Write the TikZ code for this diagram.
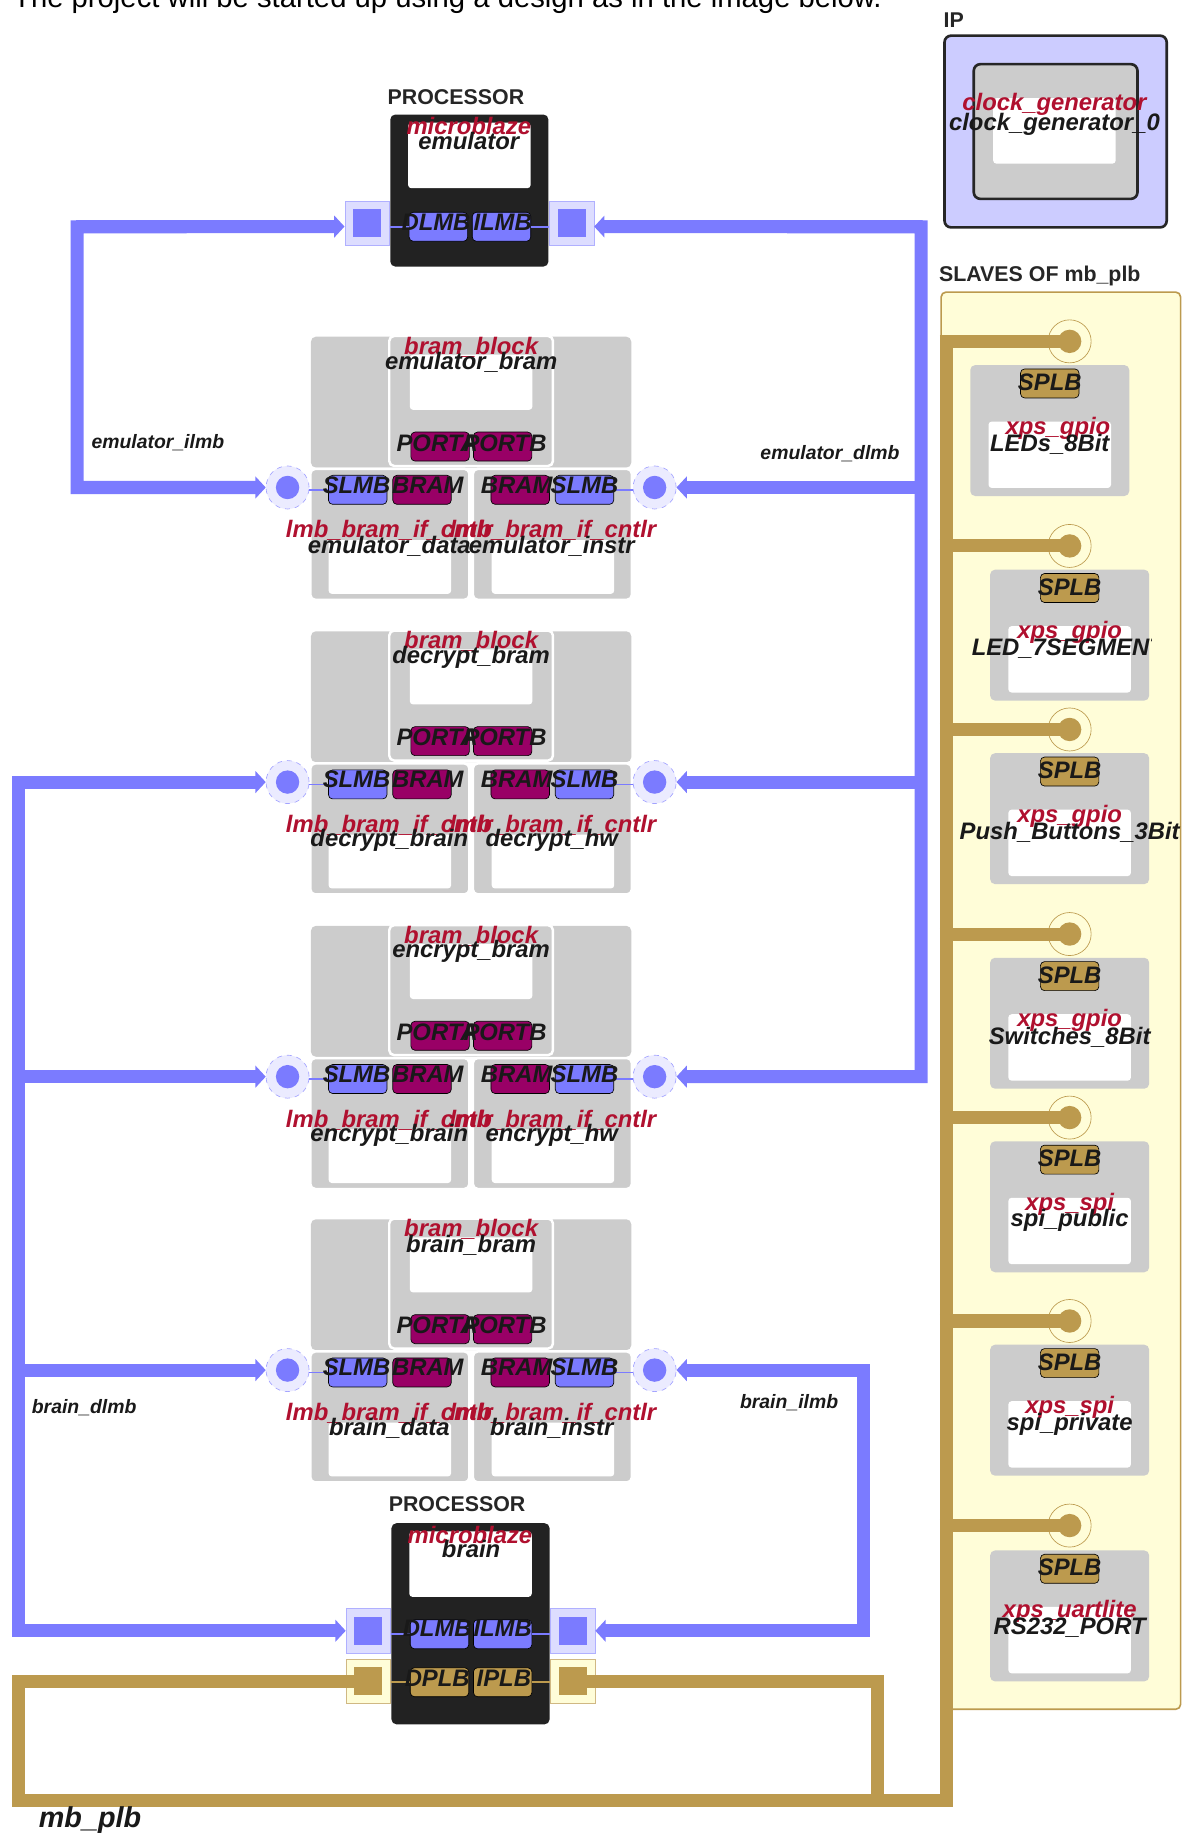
\documentclass[tikz,border=0pt]{standalone}
\usepackage{fontspec}
\setmainfont{Liberation Sans}
\usetikzlibrary{arrows.meta,positioning,calc}
\definecolor{lmbblue}{HTML}{7B7BFF}
\definecolor{lmbpale}{HTML}{DDDDFF}
\definecolor{plbtan}{HTML}{BC9A4E}
\definecolor{plbpale}{HTML}{FFFDD8}
\definecolor{ipblue}{HTML}{CCCCFF}
\definecolor{blockgray}{HTML}{CCCCCC}
\definecolor{procblack}{HTML}{222222}
\definecolor{bramred}{HTML}{B0102F}
\definecolor{bramport}{HTML}{990066}
\tikzset{
  block/.style    = {fill=blockgray, rounded corners=3pt, inner sep=0pt, minimum width=3.4cm, minimum height=2.8cm},
  whitebox/.style = {fill=white, rounded corners=2pt, inner sep=0pt, minimum width=2.62cm},
  port/.style     = {draw=black, rounded corners=2.5pt, inner sep=0pt, minimum width=1.25cm, minimum height=0.62cm},
  lmbport/.style  = {port, fill=lmbblue},
  bramp/.style    = {port, fill=bramport},
  plbport/.style  = {port, fill=plbtan},
  typetxt/.style  = {text=bramred, font=\fontsize{14.5}{14.5}\selectfont\bfseries\itshape, inner sep=0pt},
  nametxt/.style  = {text=black!90, font=\fontsize{14.5}{14.5}\selectfont\bfseries\itshape, inner sep=0pt},
  porttxt/.style  = {text=black!90, font=\fontsize{14.5}{14.5}\selectfont\bfseries\itshape, inner sep=0pt},
  bustxt/.style   = {text=black!90, font=\fontsize{11.8}{11.8}\selectfont\bfseries\itshape, inner sep=0pt},
  headtxt/.style  = {text=black!85, font=\fontsize{13}{13}\selectfont\bfseries, inner sep=0pt},
  lmbterm/.style  = {circle, draw=lmbblue!70, dashed, fill=lmbpale!60, inner sep=0pt, minimum size=0.92cm},
  plbterm/.style  = {circle, draw=plbtan, fill=plbpale, inner sep=0pt, minimum size=0.92cm},
  lmbsq/.style    = {draw=lmbblue!60, fill=lmbpale, inner sep=0pt, minimum size=0.95cm},
  plbsq/.style    = {draw=plbtan!70, fill=plbpale, inner sep=0pt, minimum size=0.95cm},
  lmbbus/.style   = {draw=lmbblue, line width=0.28cm, {Triangle[length=0.22cm,width=0.46cm]}-{Triangle[length=0.22cm,width=0.46cm]}},
  lmbstub/.style  = {draw=lmbblue, line width=0.28cm, -{Triangle[length=0.22cm,width=0.46cm]}},
  plbbus/.style   = {draw=plbtan, line width=0.28cm},
  wire/.style     = {line width=1pt},
}
\begin{document}
\begin{tikzpicture}[x=0.025cm,y=-0.025cm]
\useasboundingbox (0,0) rectangle (1015,1568);
\node[anchor=base west, inner sep=0pt, font=\fontsize{17.8}{18}\selectfont] (intro) at (11,6) {The project will be started up using a design as in the image below.};
% ip core
\node[headtxt, anchor=west] (iphead) at (807,17) {IP};
\node[draw=black!85, line width=1.6pt, fill=ipblue, rounded corners=4pt, inner sep=0pt, minimum width=4.75cm, minimum height=4.1cm] (ipbox) at (903,112.5) {};
\node[draw=black!85, line width=1.6pt, fill=blockgray, rounded corners=4pt, inner sep=0pt, minimum width=3.5cm, minimum height=2.88cm] (clkbox) at (903,112.5) {};
\node[whitebox, minimum height=1.4cm] (clkwhite) at (902,112) {};
\node[typetxt] (clktype) at (902,89) {clock\_generator};
\node[nametxt] (clkname) at (902,106) {clock\_generator\_0};
% slaves panel
\node[headtxt, anchor=west] (slhead) at (803,236) {SLAVES OF mb\_plb};
\node[draw=plbtan, line width=1pt, fill=plbpale, rounded corners=3pt, inner sep=0pt, minimum width=5.12cm, minimum height=30.3cm] (slpanel) at (907.5,856) {};
% processors
\node[headtxt] (emuhead) at (390,83) {PROCESSOR};
\node[headtxt] (brnhead) at (391,1287) {PROCESSOR};
\node[lmbsq] (emuSqL) at (314,191) {};
\node[lmbsq] (emuSqR) at (489,191) {};
\node[lmbsq] (brnSqL) at (315,1395) {};
\node[lmbsq] (brnSqR) at (490,1395) {};
\node[plbsq] (plbSqL) at (315,1438) {};
\node[plbsq] (plbSqR) at (490,1438) {};
\node[fill=procblack, rounded corners=3pt, inner sep=0pt, minimum width=3.38cm, minimum height=3.25cm] (emuproc) at (401.5,163) {};
\node[fill=procblack, rounded corners=3pt, inner sep=0pt, minimum width=3.38cm, minimum height=4.3cm] (brnproc) at (402.5,1389) {};
\node[whitebox, minimum height=1.4cm] (emuwhite) at (401.5,133) {};
\node[whitebox, minimum height=1.4cm] (brnwhite) at (402.5,1338) {};
\node[typetxt] (emutype) at (401,108) {microblaze};
\node[nametxt] (emuname) at (401,121) {emulator};
\node[typetxt] (brntype) at (402,1313) {microblaze};
\node[nametxt] (brnname) at (403,1325) {brain};
\node[lmbport] (emuDlmb) at (375,194) {};
\node[lmbport] (emuIlmb) at (429,194) {};
\node[lmbport] (brnDlmb) at (376,1398) {};
\node[lmbport] (brnIlmb) at (430,1398) {};
\node[plbport] (brnDplb) at (376,1439) {};
\node[plbport] (brnIplb) at (430,1439) {};
\draw[lmbblue, wire] (emuSqL.east |- emuDlmb) -- (emuDlmb.west) (emuIlmb.east) -- (emuSqR.west |- emuIlmb);
\draw[lmbblue, wire] (brnSqL.east |- brnDlmb) -- (brnDlmb.west) (brnIlmb.east) -- (brnSqR.west |- brnIlmb);
\draw[plbtan, wire] (plbSqL.east |- brnDplb) -- (brnDplb.west) (brnIplb.east) -- (plbSqR.west |- brnIplb);
\node[porttxt] (emuDlmbT) at (373,190) {DLMB};
\node[porttxt] (emuIlmbT) at (430,190) {ILMB};
\node[porttxt] (brnDlmbT) at (374,1393) {DLMB};
\node[porttxt] (brnIlmbT) at (430,1393) {ILMB};
\node[porttxt] (brnDplbT) at (374,1436) {DPLB};
\node[porttxt] (brnIplbT) at (431,1436) {IPLB};
% bram groups
\foreach \y/\pre/\bram in {0/emu/emulator,252/dec/decrypt,504/enc/encrypt,755/brn/brain} {
  \fill[blockgray, rounded corners=3pt] (266,{\y+288}) rectangle (540,{\y+400});
  \node[block, minimum width=3.5cm, minimum height=2.78cm, draw=white, line width=1.5pt] (\pre bram) at (403,{\y+343}) {};
  \node[whitebox, minimum height=1.18cm] (\pre white) at (403,{\y+327}) {};
  \node[block, draw=white, line width=1.5pt, anchor=north] (\pre lmbL) at (333.5,{\y+400}) {};
  \node[block, draw=white, line width=1.5pt, anchor=north] (\pre lmbR) at (472.5,{\y+400}) {};
  \node[whitebox, minimum height=1.15cm] (\pre whiteL) at (333.5,{\y+485}) {};
  \node[whitebox, minimum height=1.15cm] (\pre whiteR) at (473,{\y+485}) {};
  \node[bramp] (\pre porta) at (376.5,{\y+382}) {};
  \node[bramp] (\pre portb) at (430,{\y+382}) {};
  \node[lmbport] (\pre slmbL) at (306,{\y+419}) {};
  \node[bramp] (\pre bramL) at (361,{\y+419}) {};
  \node[bramp] (\pre bramR) at (445,{\y+419}) {};
  \node[lmbport] (\pre slmbR) at (500,{\y+419}) {};
  \node[lmbterm] (\pre termL) at (246,{\y+417}) {};
  \node[lmbterm] (\pre termR) at (560,{\y+417}) {};
  \fill[lmbblue] (\pre termL.center) circle (10);
  \fill[lmbblue] (\pre termR.center) circle (10);
  \draw[lmbblue, wire] (\pre termL.east |- \pre slmbL) -- (\pre slmbL.west) (\pre slmbR.east) -- (\pre termR.west |- \pre slmbR);
  \node[typetxt] (\pre btype) at (403,{\y+297}) {bram\_block};
  \node[nametxt] (\pre bname) at (403,{\y+310}) {\bram\_bram};
  \node[porttxt] (\pre portaT) at (374,{\y+379}) {PORTA};
  \node[porttxt] (\pre portbT) at (432,{\y+379}) {PORTB};
  \node[porttxt] (\pre slmbLT) at (305,{\y+415}) {SLMB};
  \node[porttxt] (\pre bramLT) at (366,{\y+415}) {BRAM};
  \node[porttxt] (\pre bramRT) at (442,{\y+415}) {BRAM};
  \node[porttxt] (\pre slmbRT) at (500,{\y+415}) {SLMB};
  \node[typetxt] (\pre ltype) at (333,{\y+454}) {lmb\_bram\_if\_cntlr};
  \node[typetxt] (\pre rtype) at (473,{\y+454}) {lmb\_bram\_if\_cntlr};
}
\node[nametxt] (emunameL) at (333,467) {emulator\_data};
\node[nametxt] (emunameR) at (472,467) {emulator\_instr};
\node[nametxt] (decnameL) at (333,719) {decrypt\_brain};
\node[nametxt] (decnameR) at (472,719) {decrypt\_hw};
\node[nametxt] (encnameL) at (333,971) {encrypt\_brain};
\node[nametxt] (encnameR) at (472,971) {encrypt\_hw};
\node[nametxt] (brnnameL) at (333,1222) {brain\_data};
\node[nametxt] (brnnameR) at (472,1222) {brain\_instr};
% slave cores
\foreach \x/\y/\pre in {898/312/leds,915/487/seg,915/644/push,915/819/sw,915/976/pub,915/1150/priv,915/1326/uart} {
  \node[block, anchor=north] (\pre box) at (\x,\y) {};
  \node[whitebox, minimum height=1.42cm] (\pre white) at (\x,{\y+77}) {};
  \node[plbport] (\pre splb) at (\x,{\y+16}) {};
  \node[porttxt] (\pre splbT) at (\x,{\y+15}) {SPLB};
}
% buses
\coordinate (ilmbA) at (66,194);
\coordinate (ilmbB) at (66,417);
\draw[lmbbus] ([yshift=-0.07cm]emuSqL.west) -- (ilmbA) -- (ilmbB) -- (emutermL.west);
\coordinate (dlmbA) at (788,194);
\coordinate (dlmbB) at (788,417);
\coordinate (dlmbC) at (788,669);
\coordinate (dlmbD) at (788,921);
\draw[lmbbus] ([yshift=-0.07cm]emuSqR.east) -- (dlmbA) -- (dlmbD) -- (enctermR.east);
\draw[lmbstub] (dlmbB) -- (emutermR.east);
\draw[lmbstub] (dlmbC) -- (dectermR.east);
\coordinate (brdA) at (16,669);
\coordinate (brdB) at (16,921);
\coordinate (brdC) at (16,1172);
\coordinate (brdD) at (16,1395);
\draw[lmbbus] (dectermL.west) -- (brdA) -- (brdD) -- (brnSqL.west);
\draw[lmbstub] (brdB) -- (enctermL.west);
\draw[lmbstub] (brdC) -- (brntermL.west);
\coordinate (briA) at (739,1172);
\coordinate (briB) at (739,1395);
\draw[lmbbus] (brntermR.east) -- (briA) -- (briB) -- (brnSqR.east);
\fill[lmbblue] ([shift={(-12,-12)}]emuSqL.center) rectangle ([shift={(12,12)}]emuSqL.center);
\fill[lmbblue] ([shift={(-12,-12)}]emuSqR.center) rectangle ([shift={(12,12)}]emuSqR.center);
\fill[lmbblue] ([shift={(-12,-12)}]brnSqL.center) rectangle ([shift={(12,12)}]brnSqL.center);
\fill[lmbblue] ([shift={(-12,-12)}]brnSqR.center) rectangle ([shift={(12,12)}]brnSqR.center);
\fill[plbtan] ([shift={(-12,-12)}]plbSqL.center) rectangle ([shift={(12,12)}]plbSqL.center);
\fill[plbtan] ([shift={(-12,-12)}]plbSqR.center) rectangle ([shift={(12,12)}]plbSqR.center);
% plb terminals and bus
\coordinate (plbA) at (16,1438);
\coordinate (plbB) at (16,1540);
\coordinate (plbC) at (810,1540);
\coordinate (plbD) at (751,1438);
\coordinate (plbE) at (751,1540);
\coordinate (plbF) at (810,292);
\draw[plbbus] (plbSqL.center) -- (plbA) -- (plbB) -- (plbC) -- (plbF);
\draw[plbbus] (plbSqR.center) -- (plbD) -- (plbE);
\foreach \y/\pre in {292/leds,467/seg,624/push,799/sw,956/pub,1130/priv,1305/uart} {
  \node[plbterm] (\pre term) at (915,\y) {};
  \coordinate (\pre stub) at (804,\y);
  \draw[plbbus] (\pre stub) -- (\pre term.center);
  \fill[plbtan] (\pre term.center) circle (10);
}
% bus and core labels
\node[bustxt] (ilmbT) at (135,379) {emulator\_ilmb};
\node[bustxt] (dlmbT) at (710,388) {emulator\_dlmb};
\node[bustxt] (brdT) at (72,1204) {brain\_dlmb};
\node[bustxt] (briT) at (675,1200) {brain\_ilmb};
\node[nametxt, font=\fontsize{17.5}{17.5}\selectfont\bfseries\itshape] (plbT) at (77,1557) {mb\_plb};
\node[typetxt] (ledsT) at (905,366) {xps\_gpio};
\node[nametxt] (ledsN) at (898,380) {LEDs\_8Bit};
\node[typetxt] (segT) at (915,541) {xps\_gpio};
\begin{scope}
  \clip (820,540) rectangle (985,570);
  \node[nametxt, anchor=west] (segN) at (831,555) {LED\_7SEGMENT};
\end{scope}
\node[typetxt] (pushT) at (915,698) {xps\_gpio};
\node[nametxt] (pushN) at (915,712) {Push\_Buttons\_3Bit};
\node[typetxt] (swT) at (915,873) {xps\_gpio};
\node[nametxt] (swN) at (915,887) {Switches\_8Bit};
\node[typetxt] (pubT) at (915,1030) {xps\_spi};
\node[nametxt] (pubN) at (915,1044) {spi\_public};
\node[typetxt] (privT) at (915,1204) {xps\_spi};
\node[nametxt] (privN) at (915,1218) {spi\_private};
\node[typetxt] (uartT) at (915,1378) {xps\_uartlite};
\node[nametxt] (uartN) at (915,1392) {RS232\_PORT};
\end{tikzpicture}
\end{document}
